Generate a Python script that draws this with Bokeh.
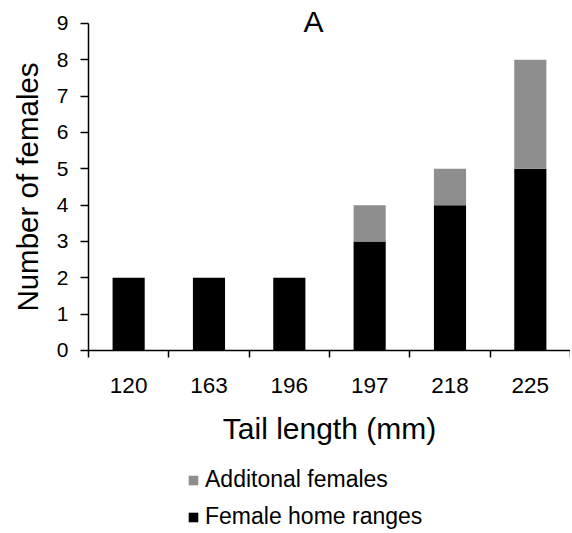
import math
from bokeh.plotting import figure
from bokeh.models import (ColumnDataSource, FixedTicker, Legend, LegendItem,
                          Range1d, Label)
from bokeh.embed import file_html
from bokeh.resources import INLINE

# ---- data ----
tail_lengths = ["120", "163", "196", "197", "218", "225"]
home_ranges = [2, 2, 2, 3, 4, 5]
additional = [0, 0, 0, 1, 1, 3]
y_ticks = [0, 1, 2, 3, 4, 5, 6, 7, 8, 9]

FONT = "Liberation Sans"

xs = [i + 0.5 for i in range(len(tail_lengths))]
tops = [h + a for h, a in zip(home_ranges, additional)]
src = ColumnDataSource(dict(x=xs, home=home_ranges, add=additional, top=tops))

p = figure(width=570, height=533, output_backend="svg", toolbar_location=None,
           x_range=Range1d(-1.095, 6.0), y_range=Range1d(-5.037, 9.633),
           min_border=0)
p.outline_line_color = None
p.grid.visible = False
p.background_fill_color = "white"
p.border_fill_color = "white"

black = p.vbar(x="x", width=0.4, bottom=0, top="home", source=src,
               fill_color="black", line_color=None)
gray = p.vbar(x="x", width=0.4, bottom="home", top="top", source=src,
              fill_color="#8e8e8e", line_color=None)

# y axis
ya = p.yaxis[0]
ya.fixed_location = 0
ya.ticker = FixedTicker(ticks=y_ticks)
ya.bounds = (0, 9)
ya.major_label_text_font = FONT
ya.major_label_text_font_size = "21px"
ya.major_label_text_color = "black"
ya.major_label_standoff = 12
ya.major_tick_out = 8
ya.major_tick_in = 0
ya.minor_tick_line_color = None
ya.axis_line_width = 1.5
ya.major_tick_line_width = 1.5

# x axis
xa = p.xaxis[0]
xa.fixed_location = 0
xa.bounds = (0, len(tail_lengths))
xa.ticker = FixedTicker(ticks=xs, minor_ticks=list(range(len(tail_lengths) + 1)))
xa.major_label_overrides = {x: t for x, t in zip(xs, tail_lengths)}
xa.major_label_text_font = FONT
xa.major_label_text_font_size = "22.5px"
xa.major_label_text_color = "black"
xa.major_label_standoff = 21
xa.major_tick_line_color = None
xa.major_tick_out = 7
xa.major_tick_in = 0
xa.minor_tick_out = 7
xa.minor_tick_in = 0
xa.minor_tick_line_width = 1.5
xa.axis_line_width = 1.5

# texts
p.add_layout(Label(x=2.8, y=9.055, text="A", text_align="center",
                   text_baseline="middle", text_font=FONT,
                   text_font_size="30px", text_color="black"))
p.add_layout(Label(x=-0.76, y=4.5, text="Number of females", angle=math.pi / 2,
                   text_align="center", text_baseline="middle", text_font=FONT,
                   text_font_size="29.5px", text_color="black"))
p.add_layout(Label(x=3.0, y=-2.147, text="Tail length (mm)",
                   text_align="center", text_baseline="middle", text_font=FONT,
                   text_font_size="30px", text_color="black"))

legend = Legend(items=[LegendItem(label="Additonal females", renderers=[gray]),
                       LegendItem(label="Female home ranges", renderers=[black])],
                location=(187, 3), orientation="vertical",
                label_text_font=FONT, label_text_font_size="23px",
                label_text_color="black", label_height=24,
                glyph_width=12, glyph_height=12, label_standoff=6,
                spacing=10, padding=0, margin=0, border_line_color=None,
                background_fill_alpha=0)
p.add_layout(legend, "center")

open("out.html", "w").write(file_html(p, INLINE))
